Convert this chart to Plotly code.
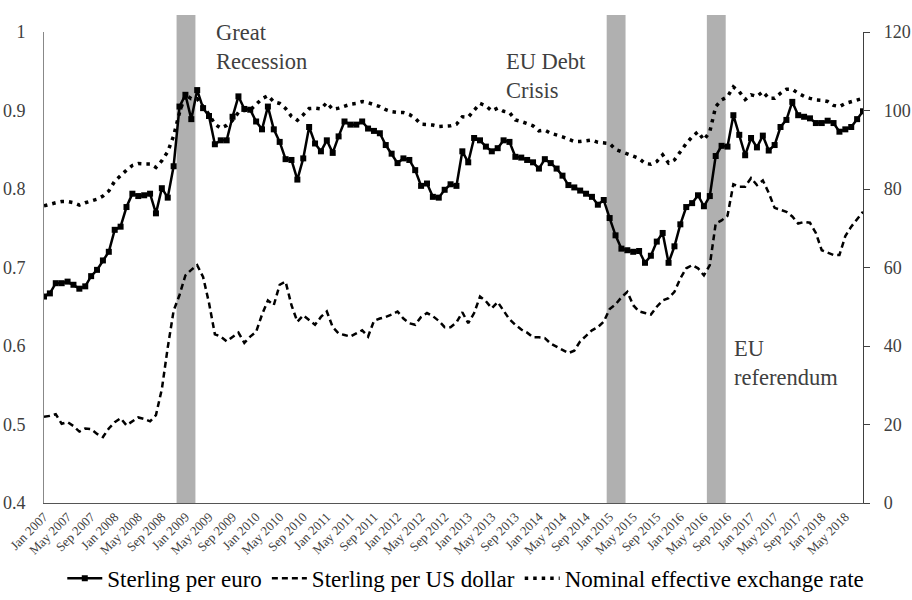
import pandas as pd
import plotly.graph_objects as go

# Month categories: Jan 2007 .. Aug 2018
months = [d.strftime("%b %Y") for d in pd.date_range("2007-01-01", "2018-08-01", freq="MS")]
tick_labels = months[::4]

# Sterling per euro (left axis)
sterling_per_euro = [
    0.663, 0.667, 0.680, 0.680, 0.682, 0.678, 0.673, 0.676, 0.689, 0.697, 0.709, 0.720,
    0.748, 0.752, 0.777, 0.794, 0.791, 0.792, 0.794, 0.769, 0.801, 0.789, 0.829, 0.905,
    0.920, 0.889, 0.926, 0.903, 0.893, 0.857, 0.862, 0.862, 0.892, 0.918, 0.902, 0.901,
    0.886, 0.876, 0.905, 0.876, 0.860, 0.838, 0.837, 0.812, 0.839, 0.879, 0.858, 0.848,
    0.862, 0.846, 0.867, 0.886, 0.882, 0.882, 0.886, 0.877, 0.874, 0.871, 0.856, 0.845,
    0.833, 0.839, 0.837, 0.824, 0.804, 0.807, 0.790, 0.789, 0.799, 0.806, 0.804, 0.848,
    0.834, 0.865, 0.862, 0.854, 0.848, 0.852, 0.862, 0.860, 0.841, 0.840, 0.837, 0.834,
    0.826, 0.838, 0.833, 0.826, 0.817, 0.805, 0.802, 0.798, 0.794, 0.790, 0.780, 0.786,
    0.763, 0.741, 0.724, 0.722, 0.720, 0.721, 0.706, 0.715, 0.733, 0.744, 0.706, 0.727,
    0.755, 0.777, 0.782, 0.792, 0.778, 0.791, 0.842, 0.855, 0.854, 0.894, 0.869, 0.843,
    0.865, 0.853, 0.868, 0.849, 0.856, 0.879, 0.888, 0.911, 0.894, 0.892, 0.890, 0.884,
    0.884, 0.887, 0.884, 0.873, 0.876, 0.879, 0.889, 0.899,
]

# Sterling per US dollar (left axis)
sterling_per_usd = [
    0.510, 0.511, 0.513, 0.501, 0.503, 0.498, 0.491, 0.495, 0.494, 0.488, 0.484, 0.495,
    0.503, 0.508, 0.499, 0.504, 0.509, 0.507, 0.504, 0.512, 0.545, 0.598, 0.645, 0.665,
    0.690, 0.697, 0.703, 0.688, 0.655, 0.615, 0.612, 0.606, 0.612, 0.617, 0.604, 0.612,
    0.618, 0.640, 0.658, 0.652, 0.678, 0.682, 0.652, 0.631, 0.639, 0.633, 0.627, 0.637,
    0.644, 0.624, 0.616, 0.614, 0.612, 0.616, 0.620, 0.612, 0.632, 0.635, 0.637, 0.640,
    0.644, 0.635, 0.629, 0.627, 0.637, 0.642, 0.638, 0.632, 0.624, 0.624, 0.630, 0.643,
    0.629, 0.642, 0.663, 0.657, 0.648, 0.656, 0.645, 0.634, 0.627, 0.621, 0.617, 0.611,
    0.611, 0.610, 0.603, 0.599, 0.595, 0.591, 0.594, 0.606, 0.613, 0.620, 0.624, 0.631,
    0.647, 0.653, 0.662, 0.669, 0.652, 0.644, 0.642, 0.640, 0.650, 0.658, 0.661, 0.669,
    0.686, 0.699, 0.703, 0.699, 0.690, 0.703, 0.756, 0.760, 0.766, 0.806, 0.803, 0.803,
    0.814, 0.805, 0.811, 0.795, 0.776, 0.773, 0.771, 0.765, 0.756, 0.758, 0.757, 0.744,
    0.722, 0.719, 0.716, 0.716, 0.740, 0.752, 0.761, 0.771,
]

# Nominal effective exchange rate (right axis)
neer = [
    75.7, 76.2, 76.5, 76.8, 76.8, 76.5, 75.9, 76.5, 77.0, 77.4, 78.2, 79.5,
    82.0, 83.5, 84.8, 86.0, 86.5, 86.4, 86.4, 85.5, 87.2, 89.5, 93.5, 99.5,
    104.0, 103.0, 103.0, 101.0, 99.0, 96.5, 95.5, 96.2, 97.5, 99.5, 100.0, 100.1,
    101.5, 103.0, 103.8, 102.2, 101.8, 100.5, 98.5, 97.5, 98.9, 100.5, 100.6, 100.4,
    102.0, 100.3, 100.6, 101.2, 101.6, 101.8, 102.3, 102.0, 101.5, 101.0, 100.2, 99.7,
    99.5, 99.5, 99.0, 98.0, 96.5, 96.5, 96.3, 95.9, 95.9, 96.1, 96.5, 98.4,
    98.3, 100.0, 101.8, 101.2, 99.9, 100.6, 99.8, 99.5, 97.6, 97.2, 96.6, 96.1,
    94.8, 95.0, 94.2, 93.8, 93.3, 92.7, 92.1, 92.1, 92.3, 92.5, 91.9, 91.7,
    91.6, 90.1, 89.5, 89.0, 88.4, 87.8, 86.5, 86.3, 87.0, 88.7, 86.6, 87.4,
    89.5, 91.6, 93.3, 94.6, 92.5, 94.6, 101.0, 102.7, 103.5, 106.0, 104.8, 102.8,
    104.0, 103.6, 104.8, 103.1, 103.1, 104.4, 105.4, 105.4, 104.4, 103.6, 103.1, 102.7,
    102.6, 102.3, 101.3, 101.0, 101.8, 102.3, 102.8, 103.1,
]

# Shaded event periods (first month, last month) and labels
shade_periods = [("Dec 2008", "Feb 2009"), ("Jan 2015", "Mar 2015"), ("Jun 2016", "Aug 2016")]
event_labels = ["Great<br>Recession", "EU Debt<br>Crisis", "EU<br>referendum"]

FONT = "Liberation Serif, Times New Roman, serif"

fig = go.Figure()
fig.add_trace(go.Scatter(
    x=months, y=sterling_per_euro, name="Sterling per euro", mode="lines+markers",
    line=dict(color="black", width=2.5), marker=dict(symbol="square", size=6, color="black"),
))
fig.add_trace(go.Scatter(
    x=months, y=sterling_per_usd, name="Sterling per US dollar", mode="lines",
    line=dict(color="black", width=2.5, dash="6px,4px"),
))
fig.add_trace(go.Scatter(
    x=months, y=neer, name="Nominal effective exchange rate", mode="lines", yaxis="y2",
    line=dict(color="black", width=3.5, dash="3.5px,5px"),
))

for (a, b) in shade_periods:
    fig.add_shape(type="rect", xref="x", yref="paper",
                  x0=months.index(a) - 0.5, x1=months.index(b) + 0.7,
                  y0=0, y1=1.036, fillcolor="#b0b0b0", line=dict(width=0), layer="below")

ann_pos = [(0.2076, 0.968), (0.5617, 0.907), (0.840, 0.297)]
for txt, (px, py) in zip(event_labels, ann_pos):
    fig.add_annotation(text=txt, xref="paper", yref="paper", x=px, y=py,
                       xanchor="left", yanchor="middle", align="left", showarrow=False,
                       font=dict(family=FONT, size=22.5, color="#404040"))

fig.update_layout(
    width=912, height=600,
    margin=dict(l=44, r=49, t=32, b=97, autoexpand=False),
    paper_bgcolor="white", plot_bgcolor="white",
    font=dict(family=FONT, color="#404040"),
    showlegend=True,
    legend=dict(orientation="h", x=0.515, xanchor="center", y=-0.16, yanchor="middle",
                font=dict(family=FONT, size=23, color="black"), itemwidth=35,
                bgcolor="rgba(0,0,0,0)"),
    xaxis=dict(type="category", range=[0, len(months) - 1], tickmode="array",
               tickvals=tick_labels, ticktext=tick_labels, tickangle=-45,
               tickfont=dict(family=FONT, size=13, color="#404040"),
               showgrid=False, showline=True, linecolor="#555555", linewidth=1.2,
               ticks="", zeroline=False, automargin=False),
    yaxis=dict(range=[0.4, 1.0], dtick=0.1, tick0=0.4, showgrid=False, zeroline=False,
               showline=True, linecolor="#888888", linewidth=1, ticks="",
               ticklabelstandoff=14, automargin=False,
               tickfont=dict(family=FONT, size=18, color="#404040")),
    yaxis2=dict(range=[0, 120], dtick=20, overlaying="y", side="right", showgrid=False,
                zeroline=False, showline=True, linecolor="#404040", linewidth=1.2,
                ticks="outside", ticklen=6, tickcolor="#404040", ticklabelstandoff=10,
                automargin=False,
                tickfont=dict(family=FONT, size=18, color="#404040")),
)

fig.write_html("out.html", post_script="document.body.style.margin='0px';",
               config={"displayModeBar": False})
